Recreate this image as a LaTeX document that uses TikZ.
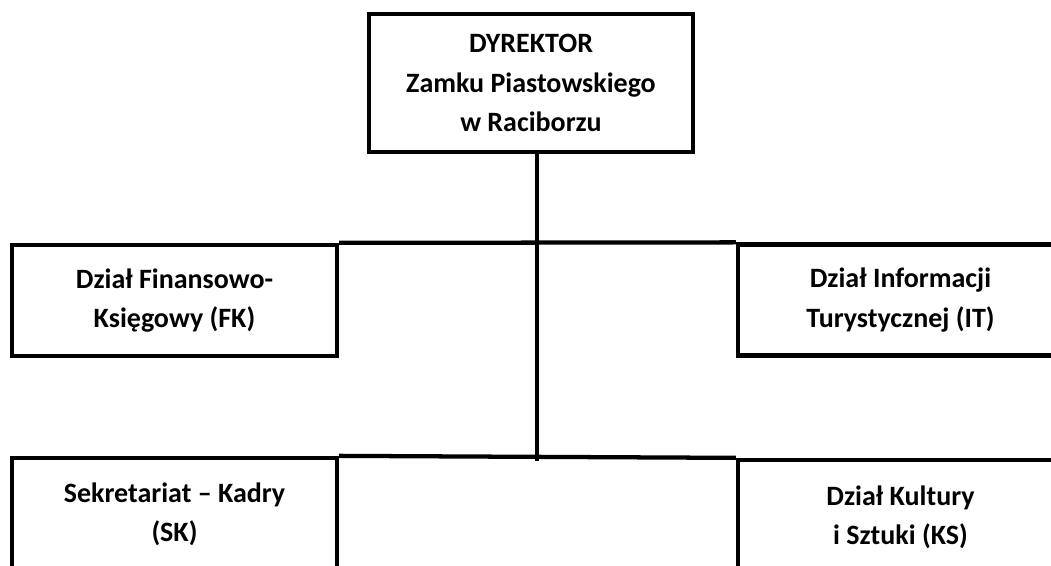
\documentclass[tikz,border=0pt]{standalone}
\usepackage{fontspec}
\setmainfont{Carlito}
\begin{document}
\begin{tikzpicture}[x=0.75pt,y=-0.75pt,line width=3.2pt,
    box/.style={draw,rectangle,align=center,inner sep=0pt,
      minimum width=243.75pt,minimum height=83.25pt,
      font=\bfseries\fontsize{21}{29.5}\selectfont}]
      \clip (0,0) rectangle (1051,566);
      \draw
        (531,83) node[box,minimum width=243pt,minimum height=103.5pt] (dyr){DYREKTOR\\Zamku Piastowskiego\\w Raciborzu}
        (174.5,300.5) node[box] (fk){Dział Finansowo-\\Księgowy (FK)}
        (900.5,300) node[box] (it){Dział Informacji\\Turystycznej (IT)}
        (174.5,514) node[box,minimum height=84pt] (sk){Sekretariat – Kadry\\(SK)}
        (900.5,517) node[box,minimum height=85.5pt] (ks){Dział Kultury\\i Sztuki (KS)};
      \coordinate (j) at (537,461);
      \begin{scope}[-]
        \draw (dyr.south -| j) to (j);
        \draw (fk.north east) to (it.north west);
        \draw (sk.north east) to (ks.north west);
      \end{scope}
    \end{tikzpicture}
\end{document}
